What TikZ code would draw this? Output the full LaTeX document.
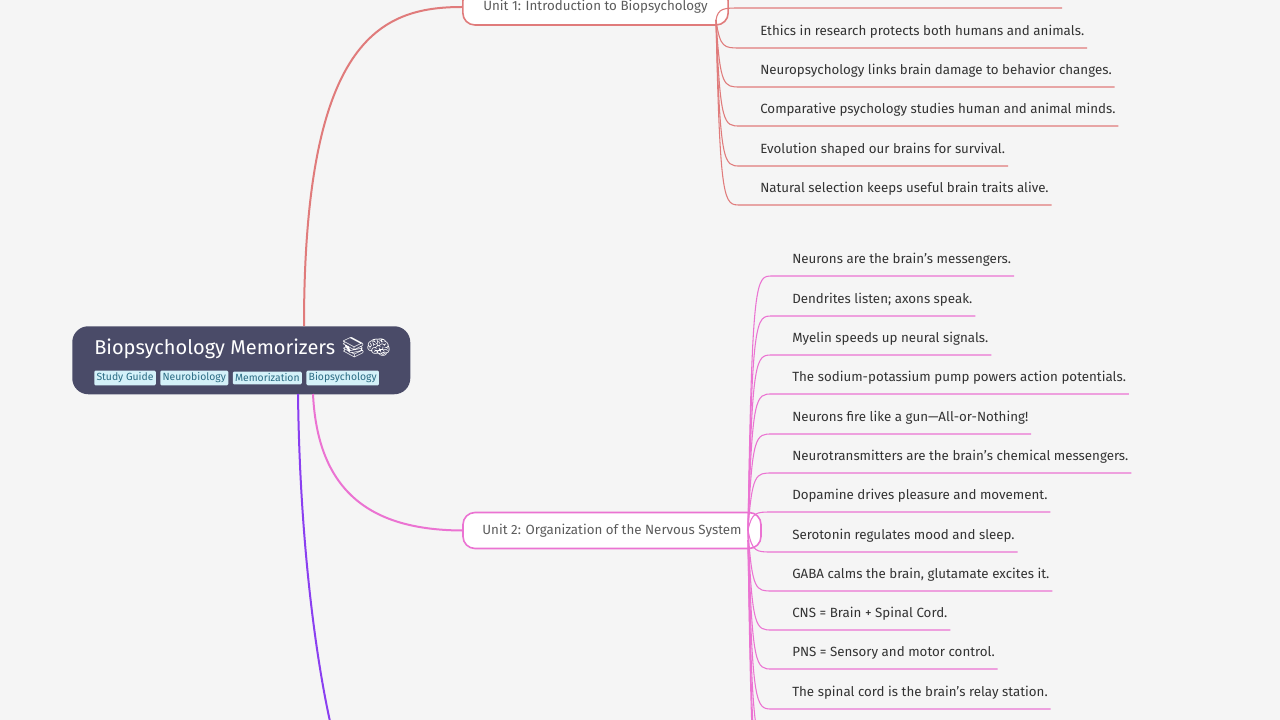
\documentclass[tikz,border=0pt]{standalone}
\usepackage{fontspec}
\setmainfont{Fira Sans}
\newfontfamily\emojifont{Noto Emoji}
\usetikzlibrary{positioning}
\definecolor{bgcol}{HTML}{F5F5F5}
\definecolor{rootcol}{HTML}{4A4B68}
\definecolor{unitone}{HTML}{E07B7B}
\definecolor{unittwo}{HTML}{EB73D2}
\definecolor{unitthree}{HTML}{8A3FF0}
\definecolor{tagfill}{HTML}{D4F1F9}
\definecolor{tagtext}{HTML}{2B6C84}
\definecolor{leaftext}{HTML}{333333}

\begin{document}
\begin{tikzpicture}
		[x=0.75pt, y=-0.75pt,
		font=\footnotesize
		]
		
		% Styles
		\tikzstyle{root node}=[rounded corners=12, fill=rootcol, minimum width=253.5pt, minimum height=51pt];
		\tikzstyle{tag node}=[fill=tagfill, text=tagtext, font=\fontsize{7.8}{8}\selectfont, inner sep=1.7pt, rounded corners=1];
		\tikzstyle{unit node}=[draw, line width=1.2pt, fill=white, rounded corners=9, minimum height=27pt, text=leaftext!80, font=\fontsize{10}{11}\selectfont, inner xsep=0pt];
		\tikzstyle{leaf node}=[anchor=west, inner sep=0pt, text=leaftext, font=\fontsize{10}{12}\selectfont];
		
		\useasboundingbox[fill=bgcol] (0,0) rectangle (1280,720);
		
		% Root
		\node(root)[root node, anchor=north west] at (72,326) {};
		\node[anchor=west, text=white, font=\fontsize{15}{17}\selectfont, inner sep=0pt] at (94,348) {Biopsychology Memorizers {\emojifont 📚🧠}};
		\node(t1)[tag node, anchor=west] at (94,378) {Study Guide};
		\node(t2)[tag node, right=3pt of t1] {Neurobiology};
		\node(t3)[tag node, right=3pt of t2] {Memorization};
		\node(t4)[tag node, right=3pt of t3] {Biopsychology};
		
		% Units
		\node(u1)[unit node, draw=unitone, minimum width=199pt] at (595.5,7) {Unit 1: Introduction to Biopsychology};
		\node(u2)[unit node, draw=unittwo, minimum width=223.5pt] at (612,530.5) {Unit 2: Organization of the Nervous System};
		\coordinate(u3) at (332,730);
		
		\draw[unitone, line width=1.5pt] (304,326) .. controls (304,40) and (380,7) .. (u1.west);
		\draw[unittwo, line width=1.5pt] (313,394) .. controls (318,500) and (380,530) .. (u2.west);
		\draw[unitthree, line width=1.5pt] (298,394) .. controls (300,560) and (320,680) .. (u3);
		
		% Unit 1 facts (first one cut off at the top edge)
		\coordinate(a0) at (1062,-8);
		\draw[unitone, thick] (716,20) .. controls (718,8) and (724,8) .. (740,8) -- (a0 |- 0,8);
		\foreach \y/\txt [count=\i] in {32/{Ethics in research protects both humans and animals.},
			71/{Neuropsychology links brain damage to behavior changes.},
			110/{Comparative psychology studies human and animal minds.},
			150/{Evolution shaped our brains for survival.},
			189/{Natural selection keeps useful brain traits alive.}}
		{
			\node(a\i)[leaf node] at (760,\y) {\txt};
			\draw[unitone, thick] (716,20) .. controls (720,\y+16) and (724,\y+16) .. (740,\y+16) -- ([xshift=2pt]a\i.east |- 0,\y+16);
		}
		
		% Unit 2 facts
		\foreach \y/\txt [count=\i] in {260/{Neurons are the brain’s messengers.},
			300/{Dendrites listen; axons speak.},
			339/{Myelin speeds up neural signals.},
			378/{The sodium-potassium pump powers action potentials.},
			418/{Neurons fire like a gun—All-or-Nothing!},
			457/{Neurotransmitters are the brain’s chemical messengers.},
			496/{Dopamine drives pleasure and movement.},
			536/{Serotonin regulates mood and sleep.},
			575/{GABA calms the brain, glutamate excites it.},
			614/{CNS = Brain + Spinal Cord.},
			653/{PNS = Sensory and motor control.},
			693/{The spinal cord is the brain’s relay station.}}
		{
			\node(b\i)[leaf node] at (792,\y) {\txt};
			\draw[unittwo, thick] (748,530) .. controls (752,\y+16) and (756,\y+16) .. (772,\y+16) -- ([xshift=2pt]b\i.east |- 0,\y+16);
		}
		% further facts run past the bottom edge
		\foreach \y in {748,788,828}
			\draw[unittwo, thick] (748,540) .. controls (752,\y) and (756,\y) .. (772,\y);
		\end{tikzpicture}
\end{document}
